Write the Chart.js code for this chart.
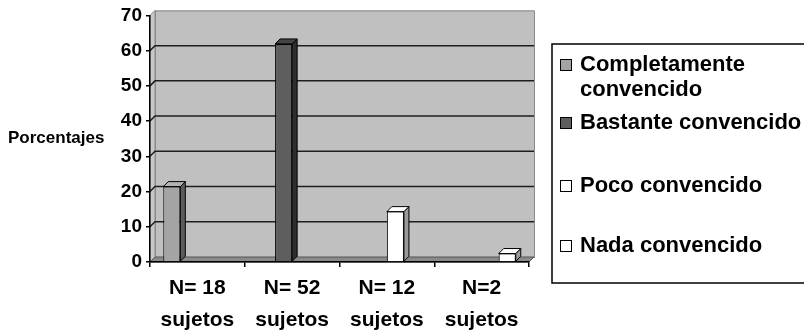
<!DOCTYPE html>
<html lang="es">
<head>
<meta charset="utf-8">
<title>Grado de convencimiento</title>
<script src="https://cdn.jsdelivr.net/npm/chart.js@4"></script>
<style>
  html, body { margin: 0; padding: 0; background: #ffffff; }
  #wrap { width: 804px; height: 331px; }
</style>
</head>
<body>
<div id="wrap"><canvas id="grafico" width="804" height="331"></canvas></div>
<script>
// Categorías (grupos de sujetos) y porcentaje de cada grado de convencimiento
const categorias = [['N= 18', 'sujetos'], ['N= 52', 'sujetos'], ['N= 12', 'sujetos'], ['N=2', 'sujetos']];
const series = ['Completamente convencido', 'Bastante convencido', 'Poco convencido', 'Nada convencido'];
const completamente = [21.4, null, null, null];
const bastante = [null, 61.9, null, null];
const poco = [null, null, 14.3, null];
const nada = [null, null, null, 2.4];
const marcasY = [0, 10, 20, 30, 40, 50, 60, 70];

const FUENTE = '"Liberation Sans", Arial, sans-serif';
const PROF = 5; // profundidad del efecto 3D

// colores: frente, lateral, tapa
const estilos = [
  { frente: '#a4a4a4', lado: '#5c5c5c', tapa: '#b4b4b4' },
  { frente: '#5e5e5e', lado: '#2e2e2e', tapa: '#444444' },
  { frente: '#ffffff', lado: '#9a9a9a', tapa: '#ffffff' },
  { frente: '#ffffff', lado: '#9a9a9a', tapa: '#ffffff' }
];
const valores = [completamente, bastante, poco, nada];

// Paredes, suelo y líneas de división con perspectiva
const paredes = {
  id: 'paredes',
  beforeDraw(chart) {
    const { ctx, chartArea: a, scales } = chart;
    const d = PROF;
    ctx.save();
    // pared izquierda
    ctx.fillStyle = '#c8c8c8';
    ctx.beginPath();
    ctx.moveTo(a.left, a.top); ctx.lineTo(a.left + d, a.top - d);
    ctx.lineTo(a.left + d, a.bottom - d); ctx.lineTo(a.left, a.bottom);
    ctx.closePath(); ctx.fill();
    ctx.strokeStyle = '#8a8a8a'; ctx.lineWidth = 1; ctx.stroke();
    // pared del fondo
    ctx.fillStyle = '#c0c0c0';
    ctx.fillRect(a.left + d, a.top - d, a.right - a.left, a.bottom - a.top);
    ctx.strokeStyle = '#8a8a8a';
    ctx.strokeRect(a.left + d + 0.5, a.top - d + 0.5, a.right - a.left, a.bottom - a.top);
    // suelo
    ctx.fillStyle = '#8a8a8a';
    ctx.beginPath();
    ctx.moveTo(a.left, a.bottom); ctx.lineTo(a.left + d, a.bottom - d);
    ctx.lineTo(a.right + d, a.bottom - d); ctx.lineTo(a.right, a.bottom);
    ctx.closePath(); ctx.fill();
    ctx.strokeStyle = '#555'; ctx.stroke();
    // líneas de división
    ctx.strokeStyle = '#1e1e1e';
    ctx.lineWidth = 1.5;
    marcasY.forEach(v => {
      if (v === 0 || v === marcasY[marcasY.length - 1]) return;
      const y = scales.y.getPixelForValue(v);
      ctx.beginPath();
      ctx.moveTo(a.left, y);
      ctx.lineTo(a.left + d, y - d);
      ctx.lineTo(a.right + d, y - d);
      ctx.stroke();
    });
    ctx.restore();
  }
};

// Caras lateral y superior de cada barra
const barras3d = {
  id: 'barras3d',
  afterDatasetsDraw(chart) {
    const { ctx } = chart;
    const d = PROF;
    ctx.save();
    ctx.lineWidth = 1;
    ctx.strokeStyle = '#000';
    chart.data.datasets.forEach((ds, i) => {
      const meta = chart.getDatasetMeta(i);
      const est = estilos[i];
      meta.data.forEach((el, j) => {
        if (ds.data[j] == null) return;
        const p = el.getProps(['x', 'y', 'base', 'width'], true);
        const l = p.x - p.width / 2, r = p.x + p.width / 2;
        // lateral
        ctx.fillStyle = est.lado;
        ctx.beginPath();
        ctx.moveTo(r, p.y); ctx.lineTo(r + d, p.y - d);
        ctx.lineTo(r + d, p.base - d); ctx.lineTo(r, p.base);
        ctx.closePath(); ctx.fill(); ctx.stroke();
        // tapa
        ctx.fillStyle = est.tapa;
        ctx.beginPath();
        ctx.moveTo(l, p.y); ctx.lineTo(l + d, p.y - d);
        ctx.lineTo(r + d, p.y - d); ctx.lineTo(r, p.y);
        ctx.closePath(); ctx.fill(); ctx.stroke();
      });
    });
    ctx.restore();
  }
};

// Título del eje Y (horizontal) y leyenda con recuadro
const textos = {
  id: 'textos',
  afterDraw(chart) {
    const { ctx } = chart;
    ctx.save();
    ctx.fillStyle = '#000';
    ctx.textBaseline = 'middle';
    ctx.textAlign = 'left';
    ctx.font = 'bold 17px ' + FUENTE;
    ctx.fillText('Porcentajes', 8, 138);

    // recuadro de la leyenda
    ctx.strokeStyle = '#000';
    ctx.lineWidth = 1.5;
    ctx.strokeRect(552, 44, 260, 239);

    const filas = [65, 123, 186, 246];
    const anchoMax = 804 - 580;
    ctx.font = 'bold 22px ' + FUENTE;
    chart.data.datasets.forEach((ds, i) => {
      // partir la etiqueta en líneas que quepan
      const palabras = ds.label.split(' ');
      const lineas = [];
      let actual = '';
      palabras.forEach(w => {
        const prueba = actual ? actual + ' ' + w : w;
        if (actual && ctx.measureText(prueba).width > anchoMax) {
          lineas.push(actual); actual = w;
        } else {
          actual = prueba;
        }
      });
      lineas.push(actual);
      const y0 = filas[i];
      ctx.fillStyle = ds.backgroundColor;
      ctx.fillRect(560, y0 - 6, 11, 11);
      ctx.lineWidth = 1;
      ctx.strokeStyle = '#000';
      ctx.strokeRect(560.5, y0 - 5.5, 11, 11);
      ctx.fillStyle = '#000';
      lineas.forEach((ln, k) => ctx.fillText(ln, 580, y0 + k * 25));
    });
    ctx.restore();
  }
};

new Chart(document.getElementById('grafico'), {
  type: 'bar',
  data: {
    labels: categorias,
    datasets: series.map((nombre, i) => ({
      label: nombre,
      data: valores[i],
      backgroundColor: estilos[i].frente,
      borderColor: '#000',
      borderWidth: 1,
      categoryPercentage: 0.72,
      barPercentage: 1.0
    }))
  },
  options: {
    responsive: false,
    devicePixelRatio: 1,
    animation: false,
    layout: { padding: { top: 15, right: 275, bottom: 0, left: 0 } },
    plugins: { legend: { display: false }, tooltip: { enabled: false } },
    scales: {
      x: {
        grid: { drawOnChartArea: false, drawTicks: true, tickLength: 5, color: '#000', lineWidth: 1.5, offset: true },
        border: { color: '#000', width: 1.5 },
        ticks: {
          color: '#000',
          padding: 5,
          maxRotation: 0,
          font: { family: FUENTE, size: 21, weight: 'bold', lineHeight: 1.52 }
        },
        afterFit(s) { s.height = 69; }
      },
      y: {
        min: marcasY[0],
        max: marcasY[marcasY.length - 1],
        afterBuildTicks(s) { s.ticks = marcasY.map(v => ({ value: v })); },
        grid: { drawOnChartArea: false, drawTicks: true, tickLength: 4, color: '#000', lineWidth: 1.5 },
        border: { color: '#000', width: 1.5 },
        ticks: {
          color: '#000',
          padding: 4,
          font: { family: FUENTE, size: 19, weight: 'bold' }
        },
        afterFit(s) { s.width = 150; }
      }
    }
  },
  plugins: [paredes, barras3d, textos]
});
</script>
</body>
</html>
